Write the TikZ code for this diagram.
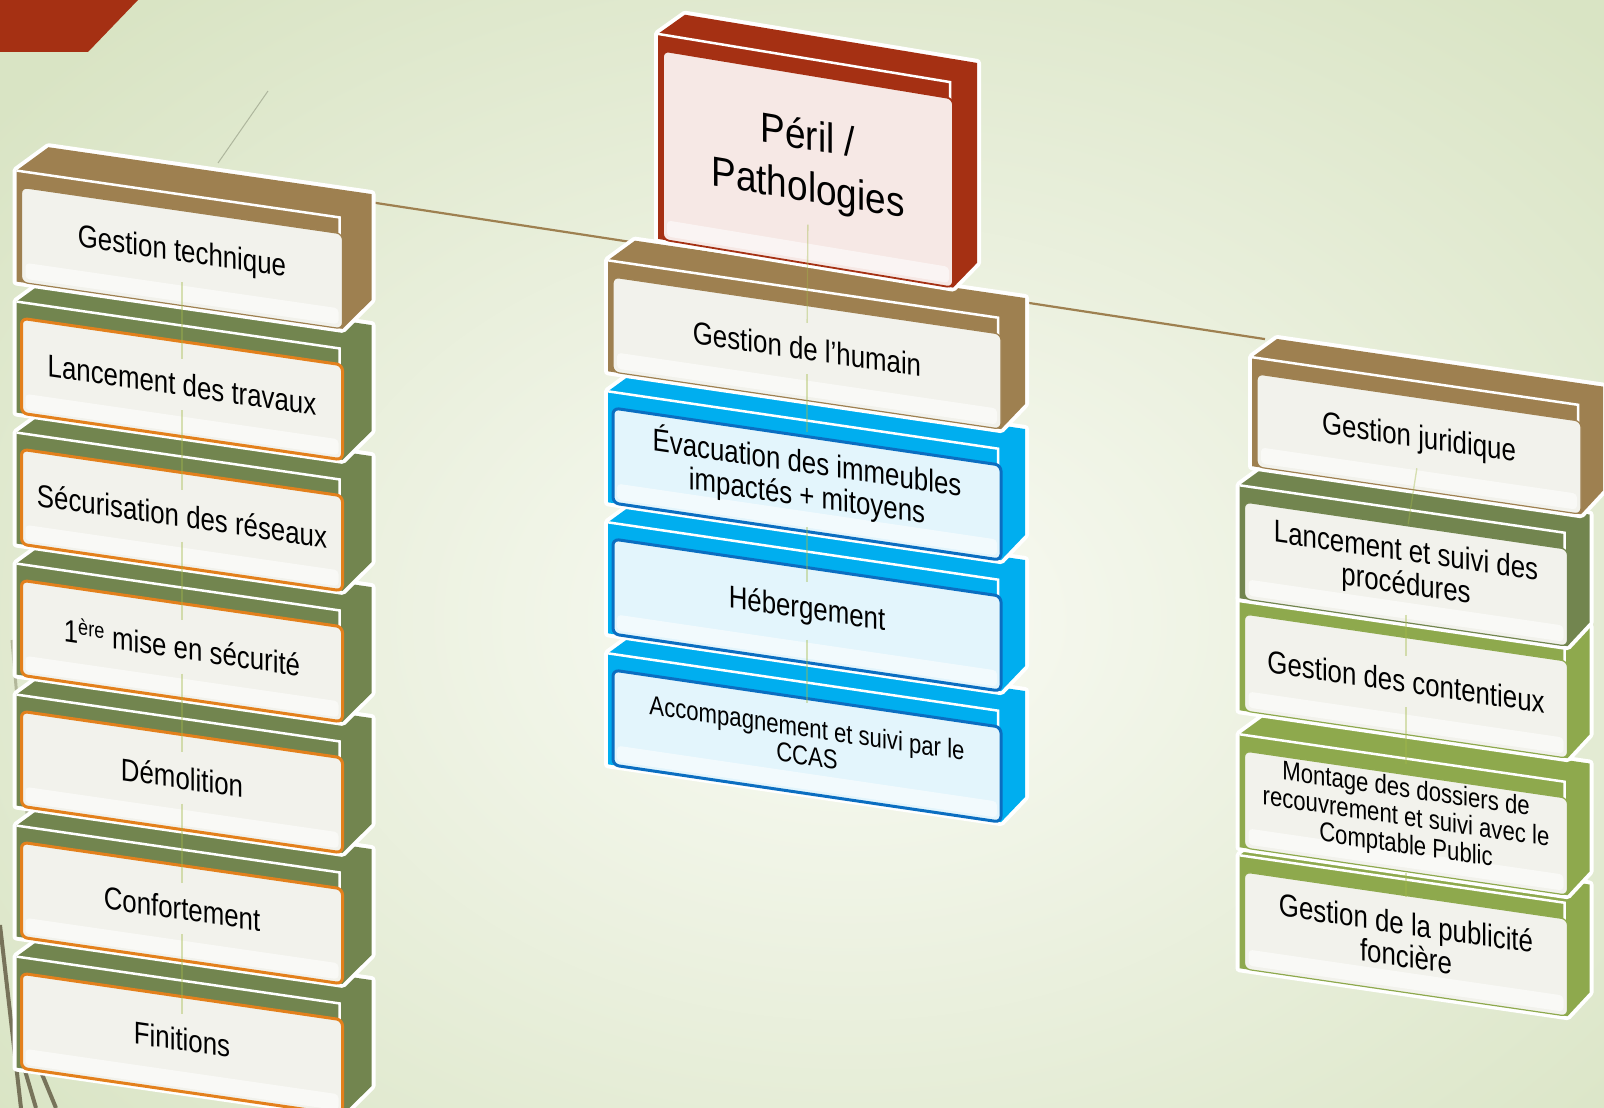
\documentclass[tikz,border=0pt]{standalone}
\usepackage{fontspec}
\usepackage{tikz}
\newfontfamily\slabfont[FakeStretch=0.82]{Liberation Sans}
\newfontfamily\perilfont[FakeStretch=0.88]{Liberation Sans}

\definecolor{catbrown}{HTML}{9E8050}
\definecolor{leafgreen}{HTML}{72854F}
\definecolor{lawgreen}{HTML}{8EA94D}
\definecolor{skyblue}{HTML}{00AEEF}
\definecolor{deepblue}{HTML}{0B6EC1}
\definecolor{perilred}{HTML}{A53013}
\definecolor{orangeedge}{HTML}{E3801C}
\definecolor{panelgray}{HTML}{F2F2EC}
\definecolor{panelblue}{HTML}{E3F5FC}
\definecolor{panelpink}{HTML}{F6E8E5}
\definecolor{bgpale}{HTML}{FAFBF5}
\definecolor{bgedge}{HTML}{D9E4C4}
\definecolor{themeolive}{HTML}{77735A}
\definecolor{stemgreen}{HTML}{A3B94A}

\pgfdeclarelayer{bg}
\pgfdeclarelayer{back}
\pgfsetlayers{bg,back,main}

\tikzset{
  box colour/.code={\colorlet{boxc}{#1}},
  panel colour/.code={\colorlet{panelc}{#1}},
  edge colour/.code={\colorlet{edgec}{#1}},
  edge width/.store in=\edgew,
  slab slope/.store in=\slabslope,
  slab depth/.store in=\slabdepth,
  every slab text/.style={}
}

% 3d block: [style]{name}{centre}{width}{height}{text}
\newcommand{\slab}[6][]{%
  \begin{scope}[#1, shift={#3}, yslant=\slabslope]
    \pgfmathsetmacro\slW{#4/2}
    \pgfmathsetmacro\slH{#5/2}
    \pgfmathsetmacro\depy{0.875*\slabdepth}
    \path[preaction={draw=white, line width=8pt, line join=round}, fill=boxc]
      (-\slW,-\slH) -- (-\slW+\slabdepth,-\slH-\depy) -- (\slW+\slabdepth,-\slH-\depy)
      -- (\slW+\slabdepth,\slH-\depy) -- (\slW+3,\slH+5) -- (-\slW,\slH+5) -- cycle;
    \draw[white, line width=2.5pt] (-\slW,-\slH) -- (\slW,-\slH) -- (\slW,\slH);
    \draw[fill=panelc, draw=edgec, line width=\edgew, rounded corners=6pt]
      (-\slW+5,-\slH+16) rectangle (\slW+3,\slH+5);
    \fill[white, opacity=0.55, rounded corners=4pt]
      (-\slW+9,\slH-15) rectangle (\slW-1,\slH+1);
    \node[slabtext, every slab text] (#2) at (4,6) {#6};
    \coordinate (#2-tl) at (-\slW+13,-\slH-20);
    \coordinate (#2-tr) at (\slW+5,-\slH-20);
  \end{scope}}

\begin{document}
\begin{tikzpicture}[x=1pt, y=-1pt,
  slabtext/.style={transform shape, align=center, inner sep=0pt,
    font=\slabfont\fontsize{31.5}{33}\selectfont},
  small/.style={every slab text/.style={font=\slabfont\fontsize{27}{28}\selectfont}},
  cat/.style={box colour=catbrown, panel colour=panelgray, edge colour=catbrown, edge width=1.2pt},
  works/.style={box colour=leafgreen, panel colour=panelgray, edge colour=orangeedge, edge width=3pt},
  care/.style={box colour=skyblue, panel colour=panelblue, edge colour=deepblue, edge width=3pt},
  suit/.style={box colour=leafgreen, panel colour=panelgray, edge colour=leafgreen, edge width=1.2pt},
  law/.style={box colour=lawgreen, panel colour=panelgray, edge colour=lawgreen, edge width=1.2pt},
  peril/.style={box colour=perilred, panel colour=panelpink, edge colour=perilred, edge width=1.8pt,
    every slab text/.style={font=\perilfont\fontsize{42}{52}\selectfont}},
  link/.style={draw=catbrown, line width=2.2pt},
  stem/.style={draw=stemgreen, line width=1.3pt, opacity=0.4, shorten <=14pt, shorten >=14pt}]
\useasboundingbox (0,0) rectangle (1604,1108);

\begin{pgfonlayer}{bg}
\begin{scope}
\clip (0,0) rectangle (1604,1108);
\shade[inner color=bgpale, outer color=bgedge] (-250,-180) rectangle (1950,1420);
\fill[perilred] (0,0) -- (138,0) -- (88,52) -- (0,52) -- cycle;
\draw[black!20!bgedge, line width=1pt] (218,163) -- (268,91);
\draw[themeolive!40!bgedge, line width=3pt] (38,940) -- (12,640);
\draw[themeolive, line width=4pt] (0,925) -- (21,1108);
\draw[themeolive, line width=4pt] (16,1040) -- (36,1108);
\draw[themeolive, line width=4pt] (30,1045) -- (56,1108);
\end{scope}
\end{pgfonlayer}

% left column
\begin{scope}[slab slope=-0.145, slab depth=32]
\slab[works]{finit}{(178,1033)}{323}{106}{Finitions}
\slab[works]{confort}{(178,902)}{323}{106}{Confortement}
\slab[works]{demol}{(178,771)}{323}{106}{Démolition}
\slab[works]{secu}{(178,640)}{323}{106}{1\textsuperscript{ère} mise en sécurité}
\slab[works]{reseau}{(178,509)}{323}{106}{Sécurisation des réseaux}
\slab[works]{lanc}{(178,378)}{323}{106}{Lancement des travaux}
\slab[cat]{tech}{(178,247)}{323}{106}{Gestion technique}
\end{scope}

% centre column
\begin{scope}[slab slope=-0.147, slab depth=27]
\slab[care, small]{ccas}{(803,735)}{390}{106}{Accompagnement et suivi par le\\CCAS}
\slab[care]{heberg}{(803,604)}{390}{106}{Hébergement}
\slab[care]{evac}{(803,473)}{390}{106}{Évacuation des immeubles\\impactés + mitoyens}
\slab[cat]{humain}{(803,342)}{390}{106}{Gestion de l’humain}
\slab[peril, slab slope=-0.165]{peril}{(804,158)}{292}{200}{Péril /\\Pathologies}
\end{scope}

% right column
\begin{scope}[slab slope=-0.146, slab depth=25]
\slab[law]{pub}{(1402,933)}{325}{108}{Gestion de la publicité\\foncière}
\slab[law, small]{recouv}{(1402,812)}{325}{108}{Montage des dossiers de\\recouvrement et suivi avec le\\Comptable Public}
\slab[law]{cont}{(1402,675)}{325}{108}{Gestion des contentieux}
\slab[suit]{proc}{(1402,563)}{325}{108}{Lancement et suivi des\\procédures}
\slab[cat]{jur}{(1415,433)}{326}{104}{Gestion juridique}
\end{scope}

\begin{pgfonlayer}{back}
\draw[link] (tech-tr) -- (jur-tl);
\end{pgfonlayer}

\foreach \a/\b in {tech/lanc, lanc/reseau, reseau/secu, secu/demol, demol/confort, confort/finit,
  peril/humain, humain/evac, evac/heberg, heberg/ccas,
  jur/proc, proc/cont, cont/recouv, recouv/pub}
  \draw[stem] (\a.south) -- (\b.north);
\end{tikzpicture}
\end{document}
